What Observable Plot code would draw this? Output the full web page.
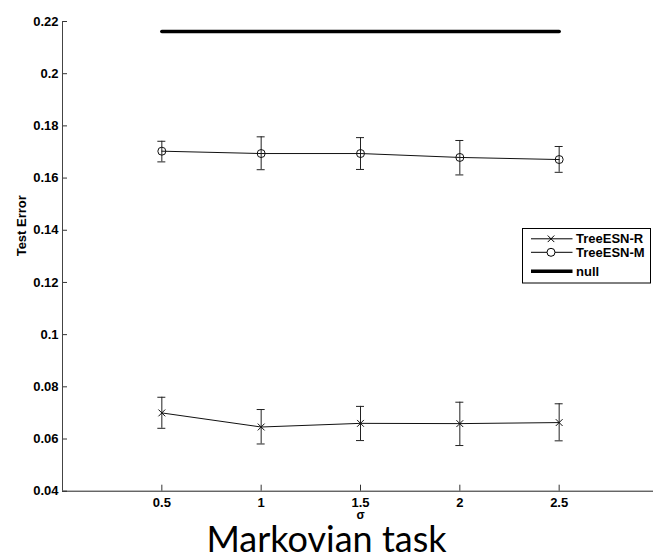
<!DOCTYPE html>
<html><head><meta charset="utf-8">
<script src="https://cdn.jsdelivr.net/npm/d3@7"></script>
<script src="https://cdn.jsdelivr.net/npm/@observablehq/plot@0.6"></script>
<style>
body{margin:0;background:#fff;}
#wrap{position:relative;width:653px;height:555px;overflow:hidden;}
#wrap svg{display:block;}
#caption{font-family:Lato,"Open Sans",sans-serif;font-size:36px;line-height:30px;text-align:center;width:653px;position:absolute;left:0;top:523px;color:#000;white-space:nowrap;}
#legend{position:absolute;left:0;top:0;}
</style></head><body><div id="wrap"></div>
<script>
// ---- data ----
const sigma = [0.5, 1, 1.5, 2, 2.5];
const seriesNames = ["TreeESN-R", "TreeESN-M", "null"];
const rMean = [0.0700, 0.0646, 0.0660, 0.0659, 0.0663];
const rLow  = [0.0641, 0.0581, 0.0594, 0.0575, 0.0593];
const rHigh = [0.0760, 0.0713, 0.0725, 0.0741, 0.0735];
const mMean = [0.1703, 0.1694, 0.1694, 0.1679, 0.1671];
const mLow  = [0.1662, 0.1632, 0.1633, 0.1612, 0.1622];
const mHigh = [0.1741, 0.1758, 0.1755, 0.1744, 0.1721];
const nullError = 0.2162;
const xTicks = [0.5, 1, 1.5, 2, 2.5];
const xTickLabels = ["0.5", "1", "1.5", "2", "2.5"];
const yTicks = [0.04, 0.06, 0.08, 0.1, 0.12, 0.14, 0.16, 0.18, 0.2, 0.22];
const yTickLabels = ["0.04", "0.06", "0.08", "0.1", "0.12", "0.14", "0.16", "0.18", "0.2", "0.22"];
const xLabel = "σ";
const yLabel = "Test Error";
const caption = "Markovian task";

// ---- tables ----
const rData = sigma.map((s, i) => ({x: s, y: rMean[i], lo: rLow[i], hi: rHigh[i]}));
const mData = sigma.map((s, i) => ({x: s, y: mMean[i], lo: mLow[i], hi: mHigh[i]}));
const nData = sigma.map(s => ({x: s, y: nullError}));

// ---- layout ----
const W = 653, H = 520;
const mL = 62, mT = 21, mR = -5, mB = H - 490.7;
const frameW = W - mR - mL, frameH = H - mB - mT;
const font = "'Liberation Sans', Arial, sans-serif";

const errMarks = (data) => [
  Plot.ruleX(data, {x: "x", y1: "lo", y2: "hi", stroke: "#222", strokeWidth: 1}),
  Plot.ruleY(data, {y: "lo", x1: "x", x2: "x", insetLeft: -4, insetRight: -4, stroke: "#222", strokeWidth: 1}),
  Plot.ruleY(data, {y: "hi", x1: "x", x2: "x", insetLeft: -4, insetRight: -4, stroke: "#222", strokeWidth: 1})
];

const chart = Plot.plot({
  width: W, height: H,
  marginLeft: mL, marginRight: mR, marginTop: mT, marginBottom: mB,
  x: {domain: [0, 3]},
  y: {domain: [0.04, 0.22]},
  style: {fontFamily: font, fontSize: "13px", fontWeight: "bold", color: "#000", background: "#fff", overflow: "visible"},
  marks: [
    // inward ticks
    Plot.ruleX(xTicks, {x: d => d, insetTop: frameH - 6, stroke: "#333"}),
    Plot.ruleY(yTicks, {y: d => d, insetRight: frameW - 5, stroke: "#333"}),
    // axis lines
    Plot.ruleX([0], {stroke: "#444"}),
    Plot.ruleY([0.04], {stroke: "#222"}),
    Plot.axisX({ticks: xTicks, tickFormat: d => xTickLabels[xTicks.indexOf(d)], tickSize: 0, tickPadding: 7, label: null, fontSize: 13, fontWeight: "bold"}),
    Plot.axisY({ticks: yTicks, tickFormat: d => yTickLabels[yTicks.indexOf(d)], tickSize: 0, tickPadding: 4, label: null, fontSize: 13, fontWeight: "bold"}),
    Plot.text([xLabel], {frameAnchor: "bottom", dy: 28, fontSize: 12, fontWeight: "bold"}),
    Plot.text([yLabel], {frameAnchor: "left", rotate: -90, dx: -41, fontSize: 13, fontWeight: "bold"}),
    // null
    Plot.line(nData, {x: "x", y: "y", stroke: "#000", strokeWidth: 3.5}),
    // TreeESN-M
    ...errMarks(mData),
    Plot.line(mData, {x: "x", y: "y", stroke: "#111", strokeWidth: 1}),
    Plot.dot(mData, {x: "x", y: "y", r: 4, stroke: "#111", fill: "none", strokeWidth: 1}),
    // TreeESN-R
    ...errMarks(rData),
    Plot.line(rData, {x: "x", y: "y", stroke: "#111", strokeWidth: 1}),
    Plot.dot(rData, {x: "x", y: "y", symbol: "times", r: 3.2, stroke: "#111", strokeWidth: 1})
  ]
});
const wrap = document.getElementById("wrap");
wrap.appendChild(chart);

// ---- legend ----
const lg = d3.select(wrap).append("svg").attr("id", "legend").attr("width", W).attr("height", H);
const bx = 522.5, by = 228.5, bw = 128, bh = 54.5;
lg.append("rect").attr("x", bx).attr("y", by).attr("width", bw).attr("height", bh)
  .attr("fill", "#fff").attr("stroke", "#000").attr("stroke-width", 1);
const rowY = [238.8, 252.3, 271.3];
const styles = [{w: 1, m: "x"}, {w: 1, m: "o"}, {w: 3.5, m: null}];
seriesNames.forEach((name, i) => {
  const y = rowY[i];
  lg.append("line").attr("x1", 531).attr("x2", 572.5).attr("y1", y).attr("y2", y)
    .attr("stroke", "#000").attr("stroke-width", styles[i].w);
  if (styles[i].m === "x") {
    lg.append("path").attr("d", d3.symbol(d3.symbolTimes, 30)()).attr("transform", `translate(551,${y})`)
      .attr("stroke", "#000").attr("fill", "none");
  } else if (styles[i].m === "o") {
    lg.append("circle").attr("cx", 551).attr("cy", y).attr("r", 4).attr("stroke", "#000").attr("fill", "#fff");
  }
  lg.append("text").attr("x", 576).attr("y", y).attr("dy", "0.36em")
    .attr("font-family", font).attr("font-size", 13).attr("font-weight", "bold").text(name);
});

// ---- caption ----
const cap = document.createElement("div");
cap.id = "caption";
cap.textContent = caption;
wrap.appendChild(cap);
</script>
</body></html>
